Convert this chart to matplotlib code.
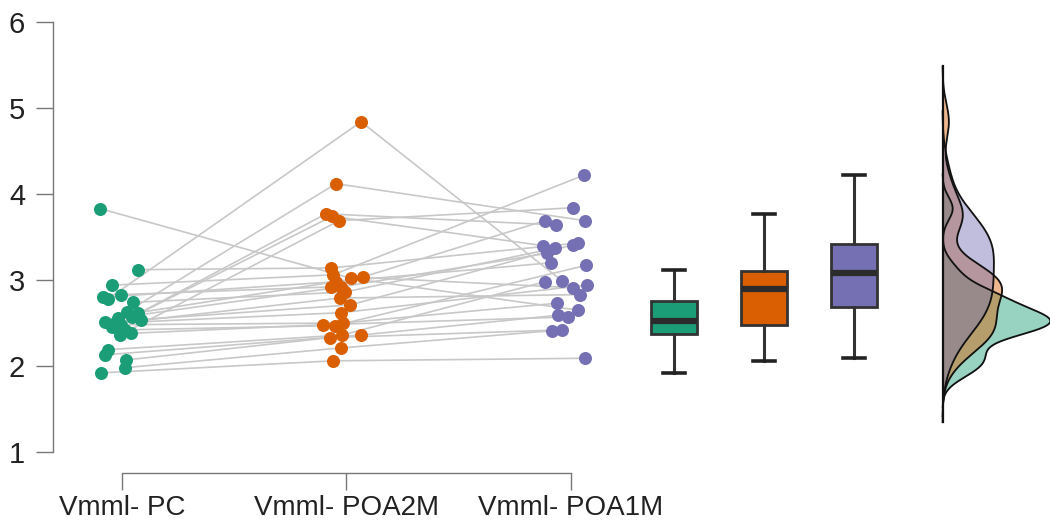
import numpy as np
import matplotlib
matplotlib.use("Agg")
import matplotlib.pyplot as plt

plt.rcParams['font.family'] = ['Liberation Sans', 'DejaVu Sans']

groups = ["Vmml- PC", "Vmml- POA2M", "Vmml- POA1M"]
colors = ["#1B9E77", "#D95F02", "#7570B3"]

# values per subject (same order in each list = same subject)
pc = [3.83, 2.78, 2.63, 2.57, 2.45, 2.36, 3.12, 2.94, 2.83, 2.80, 2.74, 2.62,
      2.56, 2.53, 2.51, 2.50, 2.48, 2.42, 2.38, 2.19, 2.13, 2.07, 1.98, 1.92]
poa2m = [3.02, 4.84, 4.12, 3.77, 3.74, 3.69, 3.14, 3.06, 2.92, 2.98, 2.86, 3.03,
         2.92, 2.79, 2.71, 2.62, 2.50, 2.47, 2.48, 2.36, 2.36, 2.33, 2.21, 2.06]
poa1m = [2.65, 2.99, 3.69, 3.64, 3.40, 3.84, 3.43, 4.22, 3.69, 3.20, 3.37, 2.91,
         3.31, 2.83, 3.41, 2.94, 2.73, 3.17, 2.57, 2.98, 2.59, 2.42, 2.41, 2.09]

# horizontal jitter
jit_pc = [-0.098, -0.062, 0.022, 0.045, -0.045, -0.009, 0.071, -0.045, -0.004, -0.085, 0.049, 0.071,
          -0.018, 0.085, -0.076, -0.031, -0.004, 0.013, 0.040, -0.062, -0.076, 0.018, 0.013, -0.094]
jit_poa2m = [0.020, 0.065, -0.047, -0.091, -0.065, -0.033, -0.069, -0.060, -0.069, -0.047, -0.007, 0.073,
             -0.024, -0.029, 0.016, -0.024, -0.016, -0.051, -0.105, -0.020, 0.065, -0.073, -0.024, -0.060]
jit_poa1m = [0.031, -0.040, 0.062, -0.067, -0.125, 0.009, 0.031, 0.058, -0.116, -0.089, -0.071, 0.009,
             -0.107, 0.040, 0.009, 0.071, -0.062, 0.067, -0.013, -0.116, -0.058, -0.040, -0.085, 0.062]

data = [np.array(pc), np.array(poa2m), np.array(poa1m)]
jits = [np.array(jit_pc), np.array(jit_poa2m), np.array(jit_poa1m)]

fig = plt.figure(figsize=(10.5, 5.22), dpi=100)
ax = fig.add_axes([0, 0, 1, 1])
ax.set_xlim(0.4566, 5.1336)
ax.set_ylim(0.186, 6.2558)

# connecting lines
xs = np.array([1 + jits[0], 2 + jits[1], 3 + jits[2]])
ys = np.array([data[0], data[1], data[2]])
for i in range(len(pc)):
    ax.plot(xs[:, i], ys[:, i], color="#c8c8c8", lw=1.2, zorder=1)

# points
for k in range(3):
    ax.scatter(k + 1 + jits[k], data[k], s=88, color=colors[k], zorder=3, linewidths=0)

# boxplots (Tukey hinges)
def fivenum(x):
    x = np.sort(x)
    n = len(x)
    n4 = np.floor((n + 3) / 2) / 2
    d = np.array([1, n4, (n + 1) / 2, n + 1 - n4, n])
    return 0.5 * (x[np.floor(d).astype(int) - 1] + x[np.ceil(d).astype(int) - 1])

box_pos = [3.46, 3.86, 4.26]
stats = []
for k in range(3):
    f = fivenum(data[k])
    iqr = f[3] - f[1]
    lo = data[k][data[k] >= f[1] - 1.5 * iqr].min()
    hi = data[k][data[k] <= f[3] + 1.5 * iqr].max()
    stats.append(dict(med=f[2], q1=f[1], q3=f[3], whislo=lo, whishi=hi, fliers=[]))
bp = ax.bxp(stats, positions=box_pos, widths=0.205, patch_artist=True, showfliers=False,
            capwidths=0.1, manage_ticks=False,
            boxprops=dict(linewidth=2, edgecolor="#333333"),
            whiskerprops=dict(linewidth=2.2, color="#333333"),
            capprops=dict(linewidth=2.6, color="#222222"),
            medianprops=dict(linewidth=4.5, color="#2b2b2b"))
for patch, c in zip(bp['boxes'], colors):
    patch.set_facecolor(c)
for el in bp['boxes'] + bp['whiskers'] + bp['caps'] + bp['medians']:
    el.set_zorder(4)

# densities (R default bandwidth nrd0, cut = 3)
def nrd0(x):
    hi = np.std(x, ddof=1)
    q75, q25 = np.percentile(x, [75, 25])
    lo = min(hi, (q75 - q25) / 1.34)
    return 0.9 * lo * len(x) ** (-0.2)

base = 4.655
dens = []
for k in range(3):
    bw = nrd0(data[k])
    grid = np.linspace(data[k].min() - 3 * bw, data[k].max() + 3 * bw, 400)
    dd = np.exp(-0.5 * ((grid[:, None] - data[k][None, :]) / bw) ** 2).sum(1) / (len(data[k]) * bw * np.sqrt(2 * np.pi))
    dens.append((grid, dd))
mx = max(d.max() for _, d in dens)
scale = 0.48 / mx
lo_all = min(g.min() for g, _ in dens)
hi_all = max(g.max() for g, _ in dens)
for k in range(3):
    g, d = dens[k]
    ax.fill_betweenx(g, base, base + d * scale, color=colors[k], alpha=0.45, lw=0, zorder=2 + k * 0.1)
    ax.plot(base + d * scale, g, color="#111111", lw=1.3, zorder=2.5)
ax.plot([base, base], [lo_all, hi_all], color="#111111", lw=1.6, zorder=2.6)

# axes
for s in ["top", "right"]:
    ax.spines[s].set_visible(False)
ax.spines["left"].set_position(("data", 0.6927))
ax.spines["left"].set_bounds(1, 6)
ax.spines["bottom"].set_position(("data", 0.76))
ax.spines["bottom"].set_bounds(1, 3)
for s in ["left", "bottom"]:
    ax.spines[s].set_color("#777777")
    ax.spines[s].set_linewidth(1.0)
ax.set_yticks([1, 2, 3, 4, 5, 6])
ax.set_xticks([1, 2, 3])
ax.set_xticklabels(groups)
ax.tick_params(axis="both", length=12, width=1.0, color="#777777", labelcolor="#222222")
ax.tick_params(axis="y", pad=8, labelsize=21)
ax.tick_params(axis="x", pad=4, labelsize=20)

fig.savefig("out.png", dpi=100)
